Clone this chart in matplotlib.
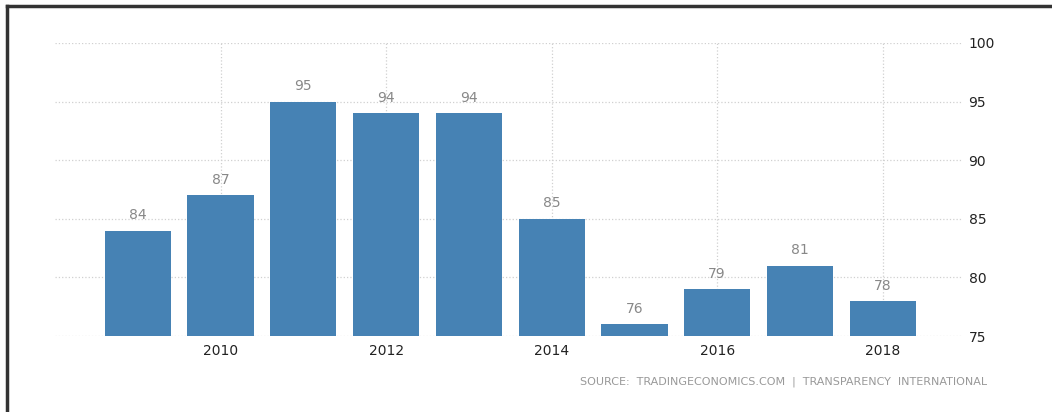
import matplotlib.pyplot as plt
from matplotlib.lines import Line2D

years = [2009, 2010, 2011, 2012, 2013, 2014, 2015, 2016, 2017, 2018]
scores = [84, 87, 95, 94, 94, 85, 76, 79, 81, 78]
xticks = [2010, 2012, 2014, 2016, 2018]
yticks = [75, 80, 85, 90, 95, 100]

fig = plt.figure(figsize=(10.52, 4.12), dpi=100)
ax = fig.add_axes([55 / 1052, 1 - 336 / 412, (963 - 55) / 1052, (336 - 43) / 412])

ax.bar(years, [s - 75 for s in scores], bottom=75, width=0.8, color='#4682b4', zorder=2)
for x, s in zip(years, scores):
    ax.annotate(str(s), (x, s), xytext=(0, 6), textcoords='offset points',
                ha='center', va='bottom', fontsize=10, color='#888888')

ax.set_xlim(2008.0, 2018.97)
ax.set_ylim(75, 100)
ax.set_xticks(xticks)
ax.set_yticks(yticks)
ax.yaxis.tick_right()
ax.tick_params(axis='both', length=0, labelsize=10, colors='#222222')
ax.tick_params(axis='y', pad=4)
ax.tick_params(axis='x', pad=6)
ax.grid(True, linestyle=':', color='#d0d0d0', linewidth=0.9, zorder=0)
for sp in ax.spines.values():
    sp.set_visible(False)

fig.text(987 / 1052, 1 - 382 / 412,
         'SOURCE:  TRADINGECONOMICS.COM  |  TRANSPARENCY  INTERNATIONAL',
         ha='right', va='center', fontsize=8, color='#999999')

# dark frame on the left and top
fig.add_artist(Line2D([7 / 1052, 7 / 1052], [0, 1 - 6 / 412], color='#333333', linewidth=2.5))
fig.add_artist(Line2D([7 / 1052, 1], [1 - 6 / 412, 1 - 6 / 412], color='#333333', linewidth=2.5))

fig.savefig('out.png', dpi=100)
